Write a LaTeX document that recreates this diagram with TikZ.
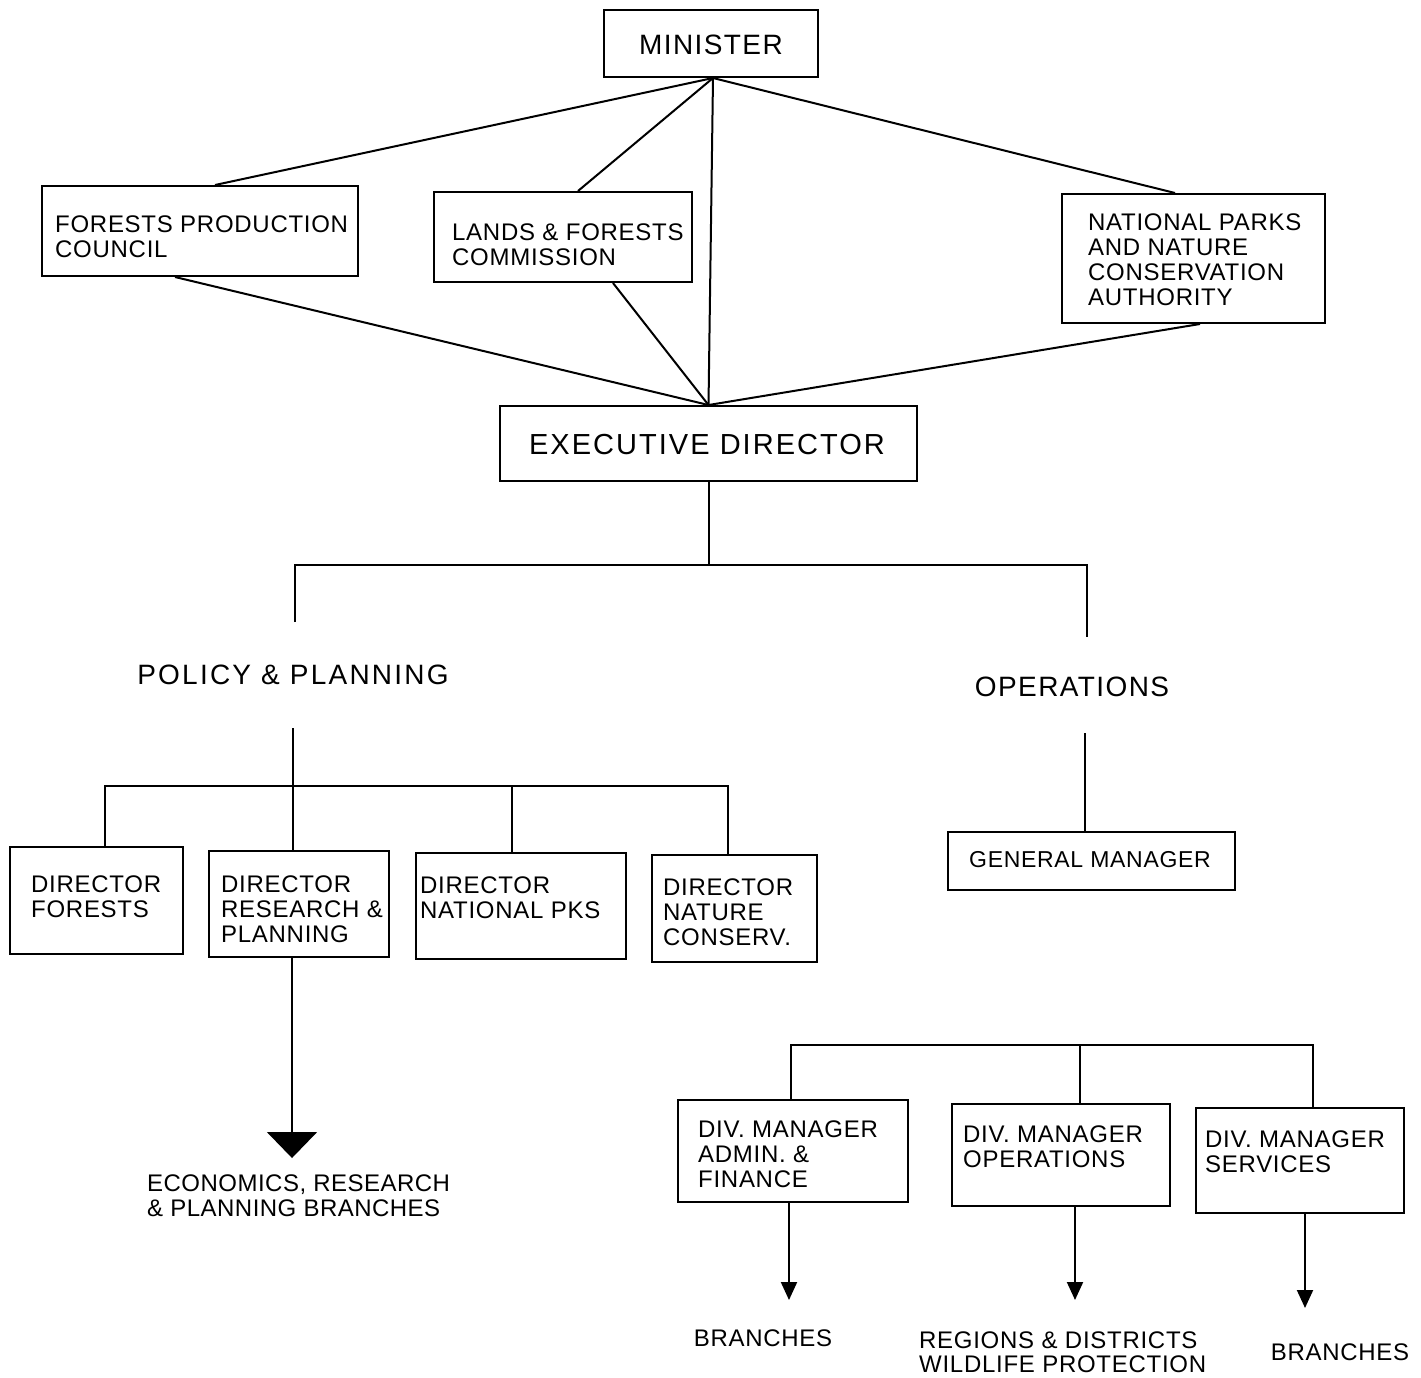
\documentclass[tikz,border=0pt]{standalone}
\usepackage{fontspec}
\setmainfont{Liberation Sans}[LetterSpace=3]
\usetikzlibrary{arrows.meta,calc}
\tikzset{
  box/.style={draw, line width=2pt, rectangle, inner sep=0pt},
  txt/.style={inner sep=0pt, align=left, font=\fontsize{24}{25}\selectfont},
  bigtxt/.style={inner sep=0pt, font=\fontsize{28}{30}\selectfont\addfontfeatures{LetterSpace=8}},
  conn/.style={line width=2pt},
  arr/.style={conn, -{Triangle[width=16pt,length=18pt]}},
  bigarr/.style={conn, -{Triangle[width=50pt,length=26pt]}}
}
\begin{document}
\begin{tikzpicture}[x=1pt,y=-1pt]
\useasboundingbox (0,0) rectangle (1421,1377);

% ---------- boxes ----------
\node[box, minimum width=214, minimum height=67] (min) at (711,43.5) {};
\node[box, minimum width=316, minimum height=90] (fpc) at (200,231) {};
\node[box, minimum width=258, minimum height=90] (lfc) at (563,237) {};
\node[box, minimum width=263, minimum height=129] (np) at (1193.5,258.5) {};
\node[box, minimum width=417, minimum height=75] (ed) at (708.5,443.5) {};
\node[box, minimum width=173, minimum height=107] (df) at (96.5,900.5) {};
\node[box, minimum width=180, minimum height=106] (drp) at (299,904) {};
\node[box, minimum width=210, minimum height=106] (dnp) at (521,906) {};
\node[box, minimum width=165, minimum height=107] (dnc) at (734.5,908.5) {};
\node[box, minimum width=287, minimum height=58] (gm) at (1091.5,861) {};
\node[box, minimum width=230, minimum height=102] (dma) at (793,1151) {};
\node[box, minimum width=218, minimum height=102] (dmo) at (1061,1155) {};
\node[box, minimum width=208, minimum height=105] (dms) at (1300,1160.5) {};

% ---------- texts ----------
\node[inner sep=0pt, font=\fontsize{28}{30}\selectfont\addfontfeatures{LetterSpace=5}] (mint) at (711,45) {MINISTER};
\node[inner sep=0pt, font=\fontsize{29}{30}\selectfont\addfontfeatures{LetterSpace=7}] (edt) at (707,445) {EXECUTIVE DIRECTOR};
\node[txt, anchor=north west] (fpct) at (55,215.4) {FORESTS PRODUCTION\\COUNCIL};
\node[txt, anchor=north west] (lfct) at (452,223.4) {LANDS \& FORESTS\\COMMISSION};
\node[txt, anchor=north west] (npt) at (1088,213.4) {NATIONAL PARKS\\AND NATURE\\CONSERVATION\\AUTHORITY};
\node[bigtxt] (pp) at (293,675) {POLICY \& PLANNING};
\node[bigtxt, font=\fontsize{28}{30}\selectfont\addfontfeatures{LetterSpace=5}] (ops) at (1072,687) {OPERATIONS};
\node[txt, anchor=north west] (dft) at (31,875.4) {DIRECTOR\\FORESTS};
\node[txt, anchor=north west] (drpt) at (221,875.4) {DIRECTOR\\RESEARCH \&\\PLANNING};
\node[txt, anchor=north west] (dnpt) at (420,876.4) {DIRECTOR\\NATIONAL PKS};
\node[txt, anchor=north west] (dnct) at (663,878.4) {DIRECTOR\\NATURE\\CONSERV.};
\node[txt, font=\fontsize{23}{25}\selectfont] (gmt) at (1090,860) {GENERAL MANAGER};
\node[txt, anchor=north west] (dmat) at (698,1120.4) {DIV. MANAGER\\ADMIN. \&\\FINANCE};
\node[txt, anchor=north west] (dmot) at (963,1125.4) {DIV. MANAGER\\OPERATIONS};
\node[txt, anchor=north west] (dmst) at (1205,1130.4) {DIV. MANAGER\\SERVICES};
\node[txt, anchor=north west, font=\fontsize{24}{25}\selectfont\addfontfeatures{LetterSpace=2}] (econ) at (147,1174.4) {ECONOMICS, RESEARCH\\\& PLANNING BRANCHES};
\node[txt] (br1) at (763,1338) {BRANCHES};
\node[txt, anchor=north west, font=\fontsize{24}{24}\selectfont] (reg) at (919,1331.4) {REGIONS \& DISTRICTS\\WILDLIFE PROTECTION};
\node[txt] (br2) at (1340,1352) {BRANCHES};

% ---------- top connectors ----------
\coordinate (mp) at ([xshift=2]min.south);
\draw[conn] (mp) -- ([xshift=15]fpc.north);
\draw[conn] (mp) -- ([xshift=15]lfc.north);
\draw[conn] (mp) -- ([xshift=-18.5]np.north);
\draw[conn] (mp) -- (ed.north);
\draw[conn] ([xshift=-25]fpc.south) -- (ed.north);
\draw[conn] ([xshift=50]lfc.south) -- (ed.north);
\draw[conn] ([xshift=6.5]np.south) -- (ed.north);

% ---------- executive director split ----------
\coordinate (j1) at (708.5,565);
\coordinate (ppstub) at (295,622);
\coordinate (opstub) at (1087,637);
\draw[conn] (ed.south) -- (j1);
\draw[conn] (ppstub) -- (ppstub |- j1) -- (opstub |- j1) -- (opstub);

% ---------- policy & planning tree ----------
\coordinate (ppdown) at (293,728);
\coordinate (j2) at (293,786);
\draw[conn] (ppdown) -- (ppdown |- drp.north);
\coordinate (a1) at ([xshift=8.5]df.north);
\coordinate (a3) at ([xshift=-9]dnp.north);
\coordinate (a4) at ([xshift=-6.5]dnc.north);
\draw[conn] (a1) -- (a1 |- j2) -- (a4 |- j2) -- (a4);
\draw[conn] (a3) -- (a3 |- j2);
\coordinate (e0) at (292,1158);
\draw[bigarr] ([xshift=-7]drp.south) -- (e0);

% ---------- operations tree ----------
\coordinate (opdown) at (1085,733);
\draw[conn] (opdown) -- (opdown |- gm.north);
\coordinate (j3) at (0,1045);
\coordinate (b1) at ([xshift=-2]dma.north);
\coordinate (b2) at ([xshift=19]dmo.north);
\coordinate (b3) at ([xshift=13]dms.north);
\draw[conn] (b1) -- (b1 |- j3) -- (b3 |- j3) -- (b3);
\draw[conn] (b2) -- (b2 |- j3);
\coordinate (e1) at (789,1300);
\coordinate (e2) at (1075,1300);
\coordinate (e3) at (1305,1308);
\draw[arr] ([xshift=-4]dma.south) -- (e1);
\draw[arr] ([xshift=14]dmo.south) -- (e2);
\draw[arr] ([xshift=5]dms.south) -- (e3);
\end{tikzpicture}
\end{document}
